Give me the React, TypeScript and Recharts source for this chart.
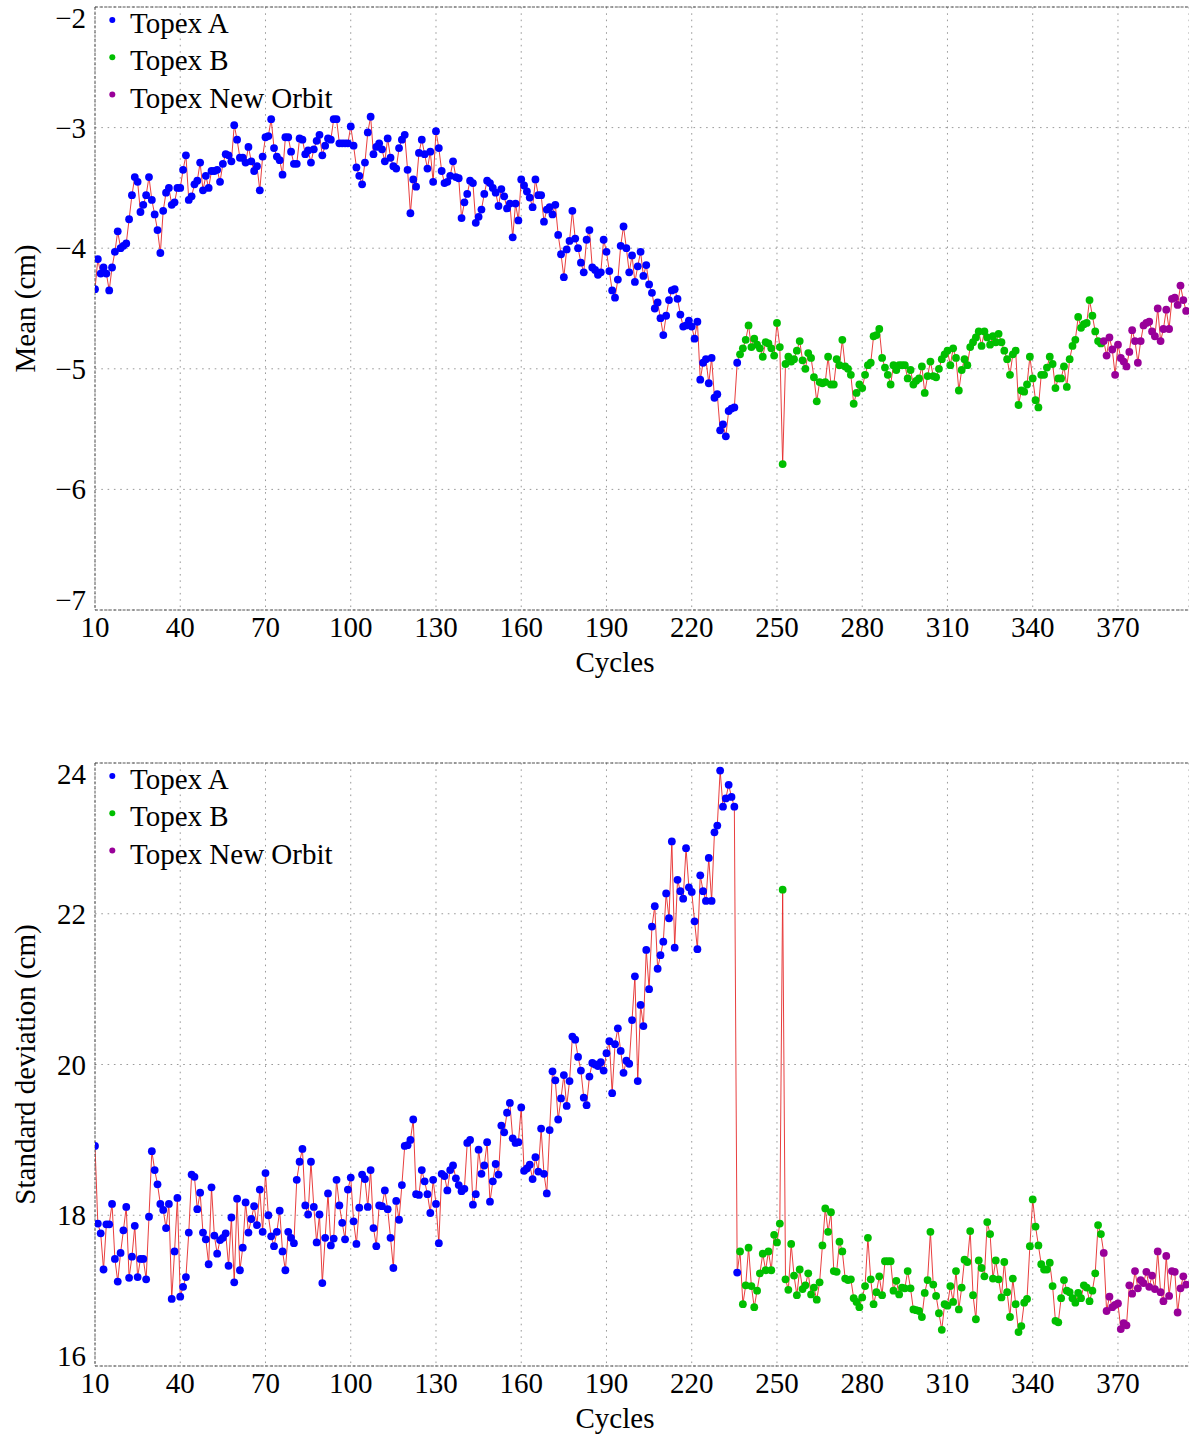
import React from 'react';
import {
  ComposedChart,
  Line,
  XAxis,
  YAxis,
  CartesianGrid,
  ReferenceLine,
  Legend,
} from 'recharts';

const FONT = '"Liberation Serif", "Times New Roman", Times, serif';

const X_TICKS = [10, 40, 70, 100, 130, 160, 190, 220, 250, 280, 310, 340, 370];
const X_DOMAIN = [10, 395];
const MEAN_TICKS = [-7, -6, -5, -4, -3, -2];
const SD_TICKS = [16, 18, 20, 22, 24];
const SERIES_NAMES = ['Topex A', 'Topex B', 'Topex New Orbit'];
const SERIES_COLORS = ['#0000ff', '#00bf00', '#990099'];
const SERIES_KEYS = ['A', 'B', 'N'];
const START_CYCLES = [10, 237, 365];

// Mean (cm), Topex A, cycles 10..236
const meanA = [
  -4.34, -4.09, -4.21, -4.16, -4.21, -4.35, -4.16, -4.03, -3.86, -4.0,
  -3.98, -3.96, -3.76, -3.56, -3.41, -3.45, -3.7, -3.64, -3.56, -3.41,
  -3.6, -3.72, -3.85, -4.04, -3.69, -3.54, -3.5, -3.64, -3.62, -3.5,
  -3.5, -3.35, -3.23, -3.6, -3.57, -3.47, -3.44, -3.29, -3.52, -3.4,
  -3.5, -3.36, -3.36, -3.35, -3.45, -3.3, -3.22, -3.23, -3.28, -2.98,
  -3.1, -3.25, -3.25, -3.29, -3.16, -3.28, -3.36, -3.32, -3.52, -3.24,
  -3.08, -3.07, -2.93, -3.17, -3.24, -3.27, -3.39, -3.08, -3.08, -3.2,
  -3.3, -3.3, -3.09, -3.1, -3.22, -3.19, -3.29, -3.18, -3.11, -3.06,
  -3.23, -3.15, -3.09, -3.1, -2.93, -2.93, -3.13, -3.13, -3.13, -3.13,
  -2.99, -3.15, -3.33, -3.4, -3.47, -3.29, -3.04, -2.91, -3.22, -3.16,
  -3.13, -3.18, -3.28, -3.09, -3.25, -3.32, -3.34, -3.17, -3.1, -3.06,
  -3.35, -3.71, -3.43, -3.49, -3.21, -3.1, -3.22, -3.34, -3.2, -3.45,
  -3.03, -3.17, -3.36, -3.46, -3.45, -3.4, -3.28, -3.41, -3.42, -3.75,
  -3.62, -3.55, -3.44, -3.46, -3.79, -3.74, -3.68, -3.55, -3.44, -3.46,
  -3.5, -3.54, -3.65, -3.51, -3.57, -3.67, -3.63, -3.91, -3.63, -3.77,
  -3.43, -3.48, -3.53, -3.58, -3.66, -3.43, -3.56, -3.56, -3.78, -3.68,
  -3.66, -3.72, -3.64, -3.89, -4.05, -4.24, -4.01, -3.94, -3.69, -3.92,
  -4.0, -4.12, -4.2, -3.93, -3.85, -4.16, -4.18, -4.22, -4.2, -3.93,
  -4.03, -4.19, -4.35, -4.41, -4.26, -3.98, -3.82, -4.0, -4.2, -4.06,
  -4.28, -4.15, -4.03, -4.23, -4.14, -4.3, -4.37, -4.5, -4.45, -4.58,
  -4.72, -4.56, -4.43, -4.35, -4.34, -4.42, -4.55, -4.65, -4.64, -4.6,
  -4.65, -4.75, -4.61, -5.09, -4.95, -4.92, -5.12, -4.91, -5.24, -5.21,
  -5.51, -5.46, -5.56, -5.35, -5.33, -5.32, -4.95,
];

// Mean (cm), Topex B, cycles 237..364
const meanB = [
  -4.88, -4.83, -4.76,
  -4.64, -4.82, -4.75, -4.8, -4.83, -4.9, -4.78, -4.79, -4.83, -4.89,
  -4.62, -4.82, -5.79, -4.96, -4.9, -4.94, -4.92, -4.85, -4.77, -4.93,
  -5.0, -4.87, -4.91, -5.07, -5.27, -5.11, -5.12, -5.11, -4.9, -5.13,
  -5.13, -4.92, -4.97, -4.76, -4.98, -5.0, -5.05, -5.29, -5.2, -5.13,
  -5.16, -5.05, -4.97, -4.95, -4.73, -4.72, -4.67, -4.91, -4.99, -5.05,
  -5.13, -4.97, -5.01, -4.97, -4.97, -4.97, -5.08, -5.01, -5.13, -5.1,
  -5.08, -4.98, -5.2, -5.06, -4.94, -5.06, -5.07, -5.0, -4.92, -4.88,
  -4.85, -4.97, -4.83, -4.91, -5.18, -5.01, -4.92, -4.97, -4.82, -4.78,
  -4.74, -4.69, -4.81, -4.69, -4.74, -4.8, -4.73, -4.78, -4.71, -4.78,
  -4.85, -4.92, -5.05, -4.88, -4.85, -5.3, -5.18, -5.19, -5.13, -4.9,
  -5.08, -5.26, -5.32, -5.05, -5.05, -4.99, -4.9, -4.96, -5.16, -5.08,
  -5.08, -4.98, -5.15, -4.92, -4.81, -4.76, -4.57, -4.66, -4.63, -4.62,
  -4.43, -4.56, -4.69, -4.77, -4.79,
];

// Mean (cm), Topex New Orbit, cycles 365..394
const meanN = [
  -4.77, -4.89, -4.74, -4.84, -5.05, -4.8, -4.91, -4.94, -4.98, -4.86,
  -4.68, -4.77, -4.95, -4.77, -4.64, -4.62, -4.61, -4.69, -4.73, -4.5,
  -4.77, -4.67, -4.51, -4.67, -4.42, -4.41, -4.47, -4.31, -4.43, -4.52,
];

// Standard deviation (cm), Topex A, cycles 10..236
const sdA = [
  18.92, 17.89, 17.76, 17.28, 17.88, 17.88, 18.15, 17.42, 17.12, 17.5,
  17.8, 18.11, 17.17, 17.45, 17.86, 17.18, 17.42, 17.42, 17.15, 17.98,
  18.85, 18.6, 18.41, 18.15, 18.07, 17.83, 18.15, 16.89, 17.52, 18.23,
  16.92, 17.05, 17.18, 17.77, 18.54, 18.51, 18.08, 18.3, 17.77, 17.68,
  17.35, 18.37, 17.73, 17.49, 17.67, 17.7, 17.76, 17.33, 17.97, 17.11,
  18.22, 17.27, 17.57, 18.17, 17.77, 17.95, 18.12, 17.87, 18.34, 17.78,
  18.56, 18.0, 17.72, 17.59, 17.78, 18.06, 17.52, 17.27, 17.78, 17.7,
  17.63, 18.47, 18.71, 18.88, 18.13, 18.01, 18.71, 18.11, 17.64, 18.01,
  17.1, 17.7, 18.29, 17.6, 17.69, 18.47, 18.13, 17.9, 17.68, 18.34,
  18.5, 17.92, 17.62, 18.1, 18.54, 18.48, 18.11, 18.6, 17.83, 17.59,
  18.13, 18.12, 18.33, 18.08, 17.7, 17.3, 18.19, 17.94, 18.4, 18.92,
  18.93, 19.0, 19.27, 18.28, 18.27, 18.6, 18.45, 18.28, 18.03, 18.47,
  18.15, 17.63, 18.55, 18.52, 18.33, 18.6, 18.66, 18.49, 18.4, 18.32,
  18.35, 18.96, 19.0, 18.14, 18.28, 18.87, 18.55, 18.66, 18.97, 18.18,
  18.45, 18.68, 18.54, 19.19, 19.1, 19.36, 19.49, 19.02, 18.96, 18.97,
  19.43, 18.59, 18.62, 18.67, 18.48, 18.77, 18.58, 19.15, 18.55, 18.29,
  19.13, 19.91, 19.79, 19.27, 19.55, 19.86, 19.45, 19.78, 20.37, 20.33,
  20.1, 19.92, 19.56, 19.46, 19.84, 20.02, 20.0, 19.98, 20.03, 19.92,
  20.15, 20.31, 19.62, 20.27, 20.48, 20.18, 19.89, 20.05, 20.01, 20.59,
  21.17, 19.78, 20.79, 20.51, 21.52, 21.0, 21.83, 22.1, 21.27, 21.45,
  21.63, 22.27, 21.94, 22.96, 21.55, 22.45, 22.3, 22.2, 22.87, 22.35,
  22.29, 21.9, 21.53, 22.51, 22.3, 22.17, 22.74, 22.17, 23.08, 23.17,
  23.9, 23.42, 23.53, 23.71, 23.55, 23.42, 17.24,
];

// Standard deviation (cm), Topex B, cycles 237..364
const sdB = [
  17.52, 16.82, 17.07,
  17.57, 17.06, 16.78, 17.0, 17.23, 17.49, 17.27, 17.52, 17.27, 17.74,
  17.64, 17.89, 22.32, 17.15, 17.01, 17.62, 17.2, 16.94, 17.28, 17.02,
  17.07, 17.23, 16.95, 17.04, 16.88, 17.11, 17.6, 18.09, 17.78, 18.04,
  17.26, 17.25, 17.65, 17.52, 17.16, 17.14, 17.15, 16.9, 16.85, 16.78,
  16.91, 17.06, 17.7, 17.15, 16.82, 16.98, 17.19, 16.94, 17.39, 17.39,
  17.39, 17.0, 17.13, 16.95, 17.04, 17.03, 17.26, 17.03, 16.75, 16.74,
  16.73, 16.65, 16.97, 17.14, 17.78, 17.08, 16.93, 16.7, 16.48, 16.82,
  16.8, 17.06, 16.85, 17.26, 16.75, 17.04, 17.41, 17.38, 17.79, 16.94,
  16.62, 17.4, 17.3, 17.19, 17.91, 17.75, 17.16, 17.4, 17.15, 16.91,
  17.38, 16.98, 16.65, 17.16, 16.82, 16.45, 16.53, 16.84, 16.89, 17.59,
  18.21, 17.85, 17.6, 17.35, 17.28, 17.28, 17.37, 17.06, 16.6, 16.58,
  16.9, 17.14, 17.0, 16.98, 16.9, 16.84, 16.97, 16.9, 17.07, 17.04,
  16.86, 17.0, 17.23, 17.87, 17.75,
];

// Standard deviation (cm), Topex New Orbit, cycles 365..394
const sdN = [
  17.5, 16.73, 16.92, 16.78, 16.81, 16.83, 16.49, 16.57, 16.54, 17.07,
  16.96, 17.26, 17.03, 17.14, 17.1, 17.25, 17.05, 17.2, 17.02, 17.52,
  16.98, 16.86, 17.46, 16.93, 17.26, 17.25, 16.71, 17.03, 17.19, 17.08,
];

type Row = { cycle: number; all: number; A: number | null; B: number | null; N: number | null };

function buildRows(groups: number[][]): Row[] {
  const rows: Row[] = [];
  groups.forEach((vals, g) => {
    vals.forEach((v, i) => {
      rows.push({
        cycle: START_CYCLES[g] + i,
        all: v,
        A: g === 0 ? v : null,
        B: g === 1 ? v : null,
        N: g === 2 ? v : null,
      });
    });
  });
  return rows;
}

const meanRows = buildRows([meanA, meanB, meanN]);
const sdRows = buildRows([sdA, sdB, sdN]);

const fmt = (v: number) => (v < 0 ? '\u2212' + Math.abs(v) : String(v));

const CHART_W = 1189;
const Y_AXIS_W = 95;
const X_AXIS_H = 60;
const FRAME = '#555555';
const FRAME_DASH = '3 1.6';
const FONT_SIZE = 29;

function makeYTick(min: number, max: number) {
  return (props: any) => {
    const { x, y, payload } = props;
    const v = payload.value;
    const dy = v === max ? 21 : v === min ? 0 : 10;
    return (
      <text x={x} y={y + dy} textAnchor="end" fontFamily={FONT} fontSize={FONT_SIZE} fill="#000">
        {fmt(v)}
      </text>
    );
  };
}

const XTick = (props: any) => {
  const { x, y, payload } = props;
  return (
    <text x={x} y={y + 20.6} textAnchor="middle" fontFamily={FONT} fontSize={FONT_SIZE} fill="#000">
      {payload.value}
    </text>
  );
};

function LegendBox() {
  return (
    <svg width={320} height={120} style={{ display: 'block' }}>
      {SERIES_NAMES.map((name, i) => (
        <g key={name}>
          <circle cx={17.3} cy={13 + i * 37.3} r={3} fill={SERIES_COLORS[i]} />
          <text x={35} y={25.8 + i * 37.35} fontFamily={FONT} fontSize={FONT_SIZE} fill="#000">
            {name}
          </text>
        </g>
      ))}
    </svg>
  );
}

type PanelProps = {
  rows: Row[];
  domain: [number, number];
  ticks: number[];
  yLabel: string;
  height: number;
  marginTop: number;
  marginBottom: number;
};

function Panel({ rows, domain, ticks, yLabel, height, marginTop, marginBottom }: PanelProps) {
  const plotTop = marginTop;
  const plotBottom = height - marginBottom - X_AXIS_H;
  const yMid = (plotTop + plotBottom) / 2;
  const YTick = makeYTick(domain[0], domain[1]);

  const yLabelEl = () => (
    <text
      x={25}
      y={yMid}
      transform={`rotate(-90, 25, ${yMid})`}
      textAnchor="middle"
      dominantBaseline="central"
      fontFamily={FONT}
      fontSize={FONT_SIZE}
      fill="#000"
    >
      {yLabel}
    </text>
  );

  const xLabelEl = () => (
    <text x={615} y={plotBottom + 61.5} textAnchor="middle" fontFamily={FONT} fontSize={FONT_SIZE} fill="#000">
      Cycles
    </text>
  );

  return (
    <ComposedChart
      width={CHART_W}
      height={height}
      data={rows}
      margin={{ top: marginTop, right: 0, bottom: marginBottom, left: 0 }}
    >
      <CartesianGrid stroke="#9a9a9a" strokeDasharray="1.6 4.7" />
      <XAxis
        dataKey="cycle"
        type="number"
        domain={X_DOMAIN}
        ticks={X_TICKS}
        interval={0}
        allowDataOverflow
        height={X_AXIS_H}
        tickLine={false}
        tickSize={6}
        tickMargin={0}
        tick={XTick}
        axisLine={{ stroke: FRAME, strokeDasharray: FRAME_DASH }}
        label={xLabelEl}
      />
      <YAxis
        type="number"
        domain={domain}
        ticks={ticks}
        interval={0}
        allowDataOverflow
        width={Y_AXIS_W}
        tickLine={false}
        tickSize={6}
        tickMargin={3}
        tick={YTick}
        axisLine={{ stroke: FRAME, strokeDasharray: FRAME_DASH }}
        label={yLabelEl}
      />
      <ReferenceLine y={domain[1]} stroke={FRAME} strokeDasharray={FRAME_DASH} />
      <Line
        type="linear"
        dataKey="all"
        stroke="#e52a2a"
        strokeOpacity={0.9}
        strokeWidth={1}
        dot={false}
        activeDot={false}
        isAnimationActive={false}
        legendType="none"
      />
      {SERIES_KEYS.map((k, i) => (
        <Line
          key={k}
          type="linear"
          dataKey={k}
          name={SERIES_NAMES[i]}
          stroke="none"
          dot={{ r: 3.9, fill: SERIES_COLORS[i], stroke: 'none' }}
          activeDot={false}
          isAnimationActive={false}
        />
      ))}
      <Legend
        layout="vertical"
        align="center"
        verticalAlign="middle"
        wrapperStyle={{ left: Y_AXIS_W, top: plotTop, width: 320, height: 120, lineHeight: 0 }}
        content={() => <LegendBox />}
      />
    </ComposedChart>
  );
}

export default function App() {
  return (
    <div style={{ position: 'absolute', left: 0, top: 0, width: 1189, height: 1435, background: '#fff' }}>
      <Panel
        rows={meanRows}
        domain={[-7, -2]}
        ticks={MEAN_TICKS}
        yLabel="Mean (cm)"
        height={700}
        marginTop={7}
        marginBottom={30}
      />
      <Panel
        rows={sdRows}
        domain={[16, 24]}
        ticks={SD_TICKS}
        yLabel="Standard deviation (cm)"
        height={735}
        marginTop={63}
        marginBottom={9}
      />
    </div>
  );
}
